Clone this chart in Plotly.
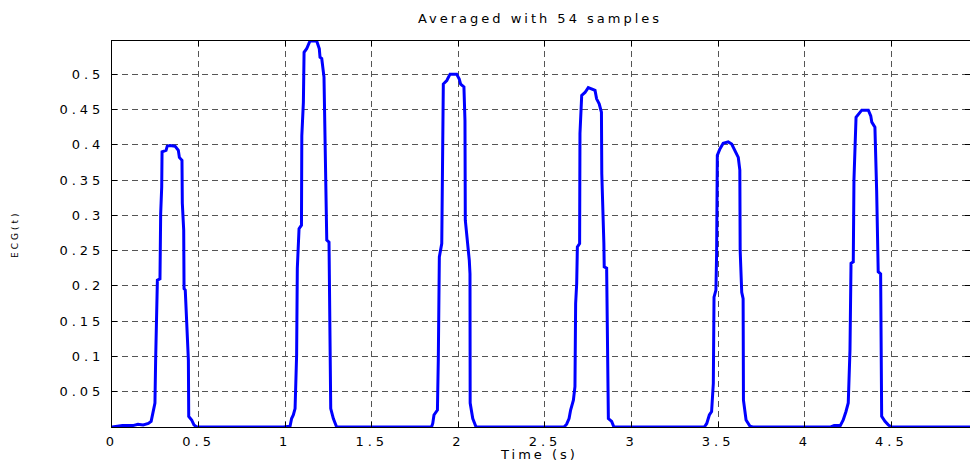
import plotly.graph_objects as go

# Averaged ECG waveform: six beats, time in seconds
beat1_t = [0.0, 0.03, 0.06, 0.12, 0.15, 0.18, 0.21, 0.226, 0.235, 0.248, 0.252, 0.258,
           0.262, 0.277, 0.281, 0.287, 0.289, 0.312, 0.319, 0.335, 0.364, 0.383, 0.389,
           0.404, 0.406, 0.414, 0.416, 0.423, 0.431, 0.441, 0.443, 0.460, 0.473, 0.489]
beat1_v = [0.0, 0.001, 0.002, 0.002, 0.004, 0.003, 0.005, 0.008, 0.019, 0.034, 0.095, 0.151,
           0.208, 0.210, 0.302, 0.340, 0.390, 0.392, 0.398, 0.399, 0.398, 0.392, 0.382,
           0.378, 0.317, 0.279, 0.196, 0.194, 0.142, 0.095, 0.015, 0.010, 0.003, 0.0]

beat2_t = [0.989, 1.028, 1.037, 1.047, 1.057, 1.066, 1.070, 1.080, 1.094, 1.096, 1.105,
           1.109, 1.124, 1.143, 1.182, 1.197, 1.201, 1.211, 1.224, 1.230, 1.236, 1.240,
           1.253, 1.259, 1.263, 1.278, 1.297]
beat2_v = [0.0, 0.001, 0.012, 0.017, 0.026, 0.102, 0.225, 0.281, 0.286, 0.413, 0.460,
           0.531, 0.536, 0.547, 0.547, 0.536, 0.524, 0.522, 0.496, 0.413, 0.319, 0.265,
           0.262, 0.154, 0.026, 0.012, 0.0]

beat3_t = [1.845, 1.852, 1.859, 1.879, 1.884, 1.890, 1.904, 1.907, 1.913, 1.933, 1.952,
           1.990, 2.005, 2.013, 2.032, 2.038, 2.040, 2.063, 2.067, 2.068, 2.083, 2.102]
beat3_v = [0.0, 0.005, 0.017, 0.024, 0.095, 0.241, 0.260, 0.378, 0.486, 0.491, 0.500,
           0.500, 0.493, 0.486, 0.482, 0.434, 0.293, 0.236, 0.217, 0.034, 0.012, 0.0]

beat4_t = [2.610, 2.625, 2.639, 2.648, 2.664, 2.673, 2.677, 2.683, 2.687, 2.700, 2.702,
           2.712, 2.731, 2.750, 2.769, 2.789, 2.798, 2.813, 2.826, 2.828, 2.840, 2.842,
           2.856, 2.860, 2.866, 2.885, 2.898]
beat4_v = [0.0, 0.004, 0.012, 0.024, 0.038, 0.057, 0.175, 0.203, 0.255, 0.260, 0.416,
           0.470, 0.474, 0.481, 0.479, 0.477, 0.465, 0.458, 0.446, 0.359, 0.260, 0.227,
           0.225, 0.104, 0.012, 0.008, 0.0]

beat5_t = [3.420, 3.434, 3.449, 3.462, 3.472, 3.476, 3.487, 3.491, 3.495, 3.510, 3.529,
           3.558, 3.578, 3.597, 3.616, 3.625, 3.627, 3.636, 3.644, 3.646, 3.661, 3.684, 3.70]
beat5_v = [0.0, 0.005, 0.017, 0.022, 0.062, 0.184, 0.194, 0.246, 0.385, 0.394, 0.402,
           0.404, 0.401, 0.392, 0.382, 0.364, 0.250, 0.191, 0.182, 0.038, 0.010, 0.001, 0.0]

beat6_t = [4.150, 4.170, 4.205, 4.222, 4.238, 4.251, 4.261, 4.267, 4.280, 4.284, 4.296,
           4.315, 4.329, 4.367, 4.381, 4.387, 4.405, 4.415, 4.424, 4.438, 4.444, 4.463,
           4.482, 4.500, 4.954]
beat6_v = [0.0, 0.002, 0.002, 0.010, 0.022, 0.034, 0.109, 0.232, 0.234, 0.350, 0.439,
           0.444, 0.449, 0.449, 0.441, 0.432, 0.425, 0.335, 0.220, 0.217, 0.015, 0.008,
           0.003, 0.0, 0.0]

x_ticks = [0, 0.5, 1, 1.5, 2, 2.5, 3, 3.5, 4, 4.5]
x_tick_text = ["0", "0.5", "1", "1.5", "2", "2.5", "3", "3.5", "4", "4.5"]
y_ticks = [0.05, 0.1, 0.15, 0.2, 0.25, 0.3, 0.35, 0.4, 0.45, 0.5]
y_tick_text = ["0.05", "0.1", "0.15", "0.2", "0.25", "0.3", "0.35", "0.4", "0.45", "0.5"]

t = beat1_t + beat2_t + beat3_t + beat4_t + beat5_t + beat6_t
ecg = beat1_v + beat2_v + beat3_v + beat4_v + beat5_v + beat6_v

FONT = "DejaVu Sans"

fig = go.Figure()
fig.add_trace(go.Scatter(
    x=t, y=ecg, mode="lines",
    line=dict(color="#0000ff", width=3),
    hoverinfo="skip", showlegend=False,
))

axis_common = dict(
    showline=True, linecolor="black", linewidth=1, mirror="ticks",
    ticks="inside", ticklen=5, tickcolor="black", tickwidth=1,
    showgrid=True, gridcolor="#555555", gridwidth=1, griddash="6px,4px",
    zeroline=False,
    tickfont=dict(family=FONT, size=13, color="black"),
)

fig.update_xaxes(range=[0, 4.954], tickvals=x_ticks, ticktext=x_tick_text,
                 ticklabelstandoff=2, **axis_common)
fig.update_yaxes(range=[0, 0.547], tickvals=y_ticks, ticktext=y_tick_text,
                 ticklabelstandoff=4, **axis_common)

fig.update_layout(
    width=970, height=465,
    margin=dict(l=112, r=0, t=41, b=38),
    paper_bgcolor="white", plot_bgcolor="white",
    title=dict(text="Averaged with 54 samples",
               font=dict(family=FONT, size=13, color="black"),
               x=540 / 970, xanchor="center", xref="container",
               y=1 - 18 / 465, yanchor="middle", yref="container"),
    annotations=[
        dict(text="Time (s)", xref="paper", yref="paper", x=0.498, y=-0.072,
             xanchor="center", yanchor="middle", showarrow=False,
             font=dict(family=FONT, size=13, color="black")),
        dict(text="ECG(t)", xref="paper", yref="paper", x=-0.113, y=0.5,
             xanchor="center", yanchor="middle", showarrow=False, textangle=-90,
             font=dict(family=FONT, size=9, color="black")),
    ],
)

# widen glyph spacing of the axis and title text
spacing_js = """
document.querySelectorAll('.xtick text, .ytick text').forEach(function(e){e.style.letterSpacing='4px';});
document.querySelectorAll('.gtitle, .annotation-text').forEach(function(e){e.style.letterSpacing='3px';});
"""

fig.write_html("out.html", post_script=spacing_js)
